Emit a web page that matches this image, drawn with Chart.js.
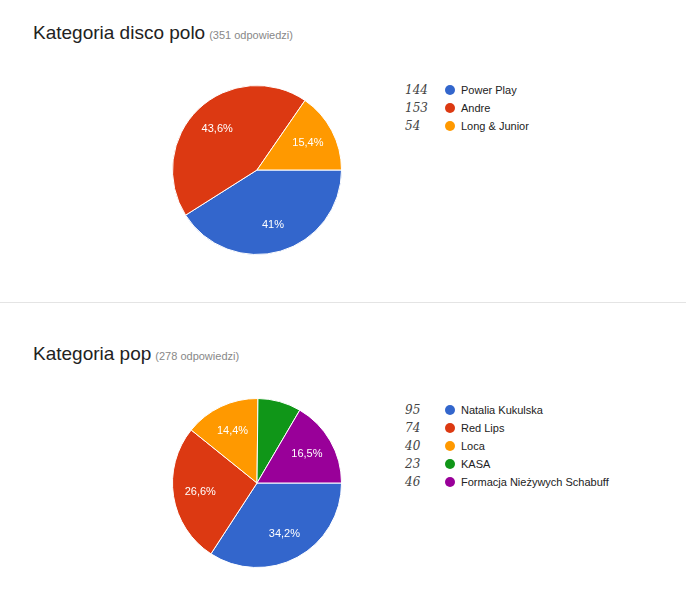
<!DOCTYPE html>
<html><head><meta charset="utf-8">
<script src="https://cdn.jsdelivr.net/npm/chart.js@4"></script>
<style>
body{margin:0;background:#fff;font-family:Arial,"Liberation Sans",sans-serif;width:686px;height:614px;position:relative;overflow:hidden}
.title{position:absolute;left:33px;font-size:19px;color:#222}
.title small{font-size:11px;color:#888;margin-left:4px}
.pie{position:absolute;left:167px}
.legend{position:absolute;left:405px;font-size:11px;color:#222}
.legend div{height:18px;display:flex;align-items:center}
.legend .n{width:40px;font-style:italic;font-size:12px;color:#444;font-family:"DejaVu Serif",serif}
.legend .d{width:10px;height:10px;border-radius:50%;margin-right:6px}
.hr{position:absolute;left:0;width:686px;top:302px;border-top:1px solid #e4e4e4}
</style></head><body>
<div class="title" style="top:22px">Kategoria disco polo<small>(351 odpowiedzi)</small></div>
<canvas id="c1" class="pie" style="top:80px" width="180" height="180"></canvas>
<div id="l1" class="legend" style="top:81px"></div>
<div class="hr"></div>
<div class="title" style="top:343px">Kategoria pop<small>(278 odpowiedzi)</small></div>
<canvas id="c2" class="pie" style="top:393px" width="180" height="180"></canvas>
<div id="l2" class="legend" style="top:401px"></div>
<script>
// disco polo
const discoLabels = ['Power Play', 'Andre', 'Long & Junior'];
const discoCounts = [144, 153, 54];
// pop
const popLabels = ['Natalia Kukulska', 'Red Lips', 'Loca', 'KASA', 'Formacja Nieżywych Schabuff'];
const popCounts = [95, 74, 40, 23, 46];
const palette = ['#3366CC', '#DC3912', '#FF9900', '#109618', '#990099'];

const pctLabels = {
  id: 'pctLabels',
  afterDatasetsDraw(chart) {
    const ctx = chart.ctx;
    const data = chart.data.datasets[0].data;
    const total = data.reduce((a, b) => a + b, 0);
    ctx.save();
    ctx.fillStyle = '#fff';
    ctx.font = '11px Arial, "Liberation Sans", sans-serif';
    ctx.textAlign = 'center';
    ctx.textBaseline = 'middle';
    chart.getDatasetMeta(0).data.forEach((arc, i) => {
      const pct = data[i] / total * 100;
      if (pct < 10) return;
      const mid = (arc.startAngle + arc.endAngle) / 2;
      const r = arc.outerRadius * 0.68;
      const txt = (Math.round(pct * 10) / 10).toString().replace('.', ',') + '%';
      ctx.fillText(txt, arc.x + Math.cos(mid) * r, arc.y + Math.sin(mid) * r);
    });
    ctx.restore();
  }
};

function makePie(id, legendId, labels, counts) {
  new Chart(document.getElementById(id), {
    type: 'pie',
    data: { labels: labels, datasets: [{ data: counts, backgroundColor: palette.slice(0, counts.length), borderColor: '#fff', borderWidth: 1 }] },
    options: {
      responsive: false, animation: false, rotation: 90,
      layout: { padding: 5 },
      plugins: { legend: { display: false }, tooltip: { enabled: false } }
    },
    plugins: [pctLabels]
  });
  document.getElementById(legendId).innerHTML = labels.map((l, i) =>
    `<div><span class="n">${counts[i]}</span><span class="d" style="background:${palette[i]}"></span>${l.replace('&', '&amp;')}</div>`).join('');
}
makePie('c1', 'l1', discoLabels, discoCounts);
makePie('c2', 'l2', popLabels, popCounts);
</script>
</body></html>
